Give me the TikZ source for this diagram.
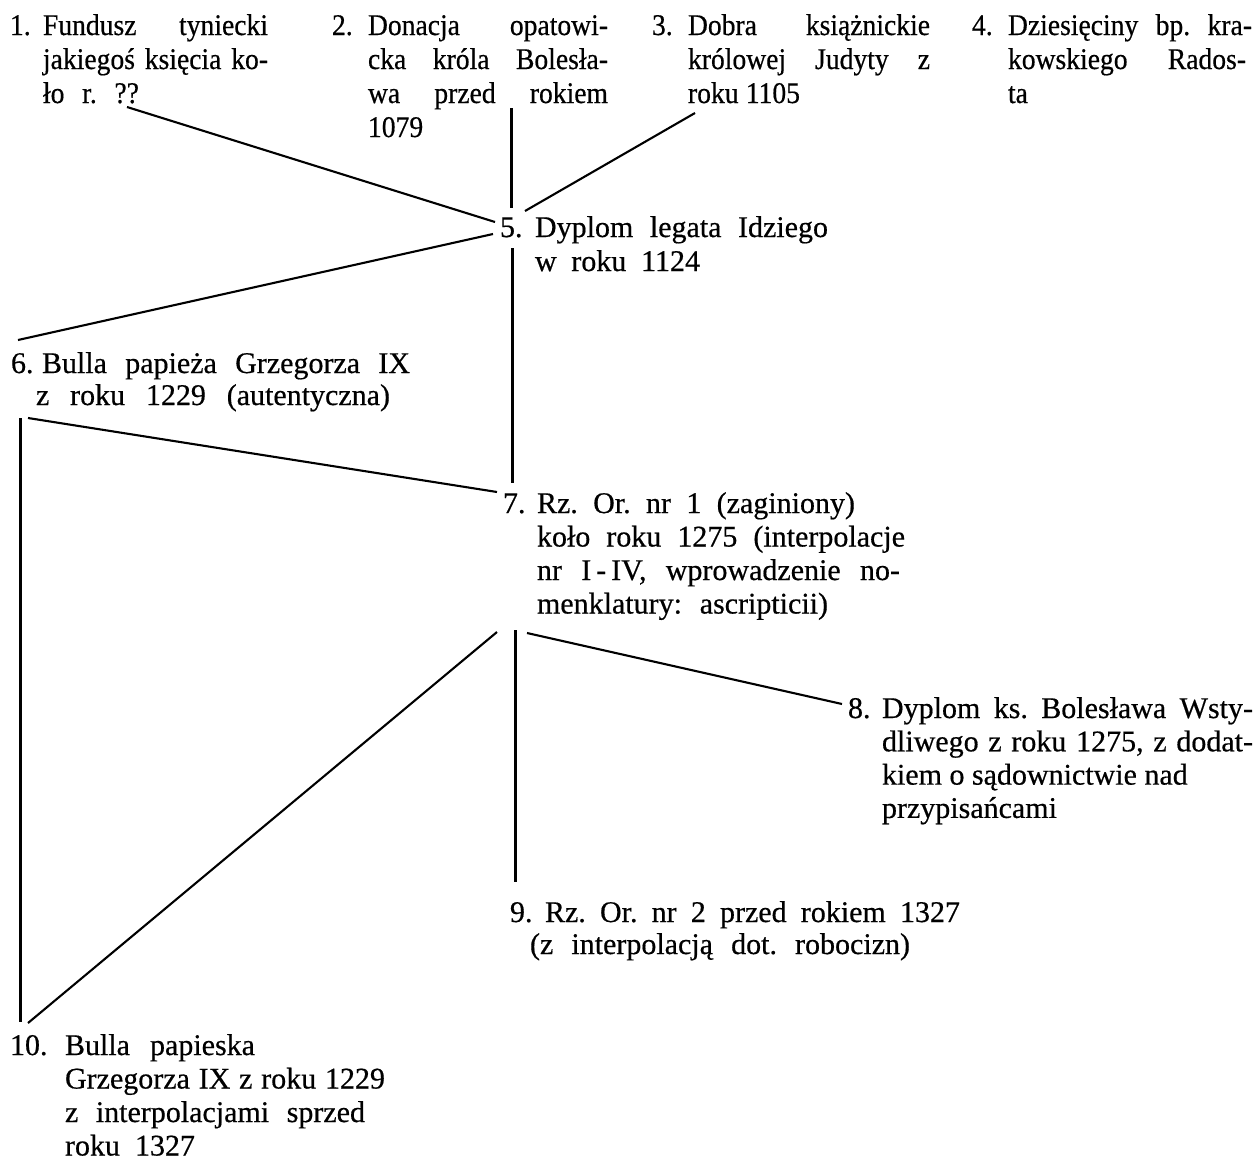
\documentclass[tikz,border=0pt]{standalone}
\usepackage{fontspec}
\setmainfont[FakeStretch=1.0,FakeBold=0.5]{Liberation Serif}
\newfontfamily\topf[FakeStretch=0.92,FakeBold=0.5]{Liberation Serif}
\newcommand\Pitch[1]{\baselineskip=#1\relax\lineskiplimit=-100pt\relax\lineskip=0pt\relax\frenchspacing}
\newcommand\Num[2]{\makebox[#1][l]{#2}}
\newcommand\Ind[1]{\hskip#1\relax}
\newcommand\J[2]{\makebox[#1][s]{#2}}
\tikzset{
  entry/.style={anchor=base west, inner sep=0pt, outer sep=0pt, font=\fontsize{30pt}{34pt}\selectfont},
  topentry/.style={entry, font=\topf\fontsize{30pt}{34pt}\selectfont},
  vline/.style={line width=3pt},
  dline/.style={line width=2.1pt}
}
\begin{document}
\begin{tikzpicture}[x=1pt,y=-1pt]
\fill[white] (0,0) rectangle (1253,1160);
\useasboundingbox (0,0) rectangle (1253,1160);

% top row
\node[topentry] (n1) at (10,35) {\vtop{\Pitch{34pt}
  \hbox{\Num{33pt}{1.}\J{225pt}{Fundusz tyniecki}}
  \hbox{\Ind{33pt}\J{225pt}{jakiegoś księcia ko-}}
  \hbox{\Ind{33pt}\J{96pt}{ło r. ??}}}};
\node[topentry] (n2) at (332,35) {\vtop{\Pitch{34pt}
  \hbox{\Num{36pt}{2.}\J{240pt}{Donacja opatowi-}}
  \hbox{\Ind{36pt}\J{240pt}{cka króla Bolesła-}}
  \hbox{\Ind{36pt}\J{240pt}{wa przed rokiem}}
  \hbox{\Ind{36pt}1079}}};
\node[topentry] (n3) at (652,35) {\vtop{\Pitch{34pt}
  \hbox{\Num{36pt}{3.}\J{242pt}{Dobra książnickie}}
  \hbox{\Ind{36pt}\J{242pt}{królowej Judyty z}}
  \hbox{\Ind{36pt}\J{112pt}{roku 1105}}}};
\node[topentry] (n4) at (972,35) {\vtop{\Pitch{34pt}
  \hbox{\Num{36pt}{4.}\J{244pt}{Dziesięciny bp. kra-}}
  \hbox{\Ind{36pt}\J{238pt}{kowskiego Rados-}}
  \hbox{\Ind{36pt}ta}}};

% middle
\node[entry] (n5) at (500,237) {\vtop{\Pitch{34pt}
  \hbox{\Num{35pt}{5.}\J{293pt}{Dyplom legata Idziego}}
  \hbox{\Ind{35pt}\J{165pt}{w roku 1124}}}};
\node[entry] (n6) at (11,373) {\vtop{\Pitch{32pt}
  \hbox{\Num{31pt}{6.}\J{368pt}{Bulla papieża Grzegorza IX}}
  \hbox{\Ind{25pt}\J{354pt}{z roku 1229 (autentyczna)}}}};
\node[entry] (n7) at (503,513) {\vtop{\Pitch{33.5pt}
  \hbox{\Num{34pt}{7.}\J{318pt}{Rz. Or. nr 1 (zaginiony)}}
  \hbox{\Ind{34pt}\J{368pt}{koło roku 1275 (interpolacje}}
  \hbox{\Ind{34pt}\J{363pt}{nr I\,-\,IV, wprowadzenie no-}}
  \hbox{\Ind{34pt}\J{291pt}{menklatury: ascripticii)}}}};
\node[entry] (n8) at (848,718) {\vtop{\Pitch{33.3pt}
  \hbox{\Num{34pt}{8.}\J{371pt}{Dyplom ks. Bolesława Wsty-}}
  \hbox{\Ind{34pt}\J{371pt}{dliwego z roku 1275, z dodat-}}
  \hbox{\Ind{34pt}kiem o sądownictwie nad}
  \hbox{\Ind{34pt}przypisańcami}}};
\node[entry] (n9) at (510,922) {\vtop{\Pitch{32pt}
  \hbox{\Num{35pt}{9.}\J{415pt}{Rz. Or. nr 2 przed rokiem 1327}}
  \hbox{\Ind{20pt}\J{380pt}{(z interpolacją dot. robocizn)}}}};
\node[entry] (n10) at (10,1055) {\vtop{\Pitch{33.5pt}
  \hbox{\Num{55pt}{10.}\J{190pt}{Bulla papieska}}
  \hbox{\Ind{55pt}\J{320pt}{Grzegorza IX z roku 1229}}
  \hbox{\Ind{55pt}\J{300pt}{z interpolacjami sprzed}}
  \hbox{\Ind{55pt}\J{130pt}{roku 1327}}}};

% connectors
\draw[dline] ([shift={(117,72)}]n1.base west) -- ([shift={(-5,-15)}]n5.base west);
\draw[vline] ([shift={(179,73)}]n2.base west) -- ([shift={(11,-29)}]n5.base west);
\draw[dline] ([shift={(43,78)}]n3.base west) -- ([shift={(25,-26)}]n5.base west);
\draw[dline] ([shift={(-7,-3)}]n5.base west) -- ([shift={(7,-33)}]n6.base west);
\draw[vline] ([shift={(12,11)}]n5.base west) -- ([shift={(9,-30)}]n7.base west);
\draw[dline] ([shift={(17,45)}]n6.base west) -- ([shift={(-6,-21)}]n7.base west);
\draw[vline] ([shift={(9,45)}]n6.base west) -- ([shift={(10,-33)}]n10.base west);
\draw[dline] ([shift={(-6,119)}]n7.base west) -- ([shift={(18,-32)}]n10.base west);
\draw[vline] ([shift={(12,117)}]n7.base west) -- ([shift={(5,-40)}]n9.base west);
\draw[dline] ([shift={(24,120)}]n7.base west) -- ([shift={(-6,-14)}]n8.base west);
\end{tikzpicture}
\end{document}
